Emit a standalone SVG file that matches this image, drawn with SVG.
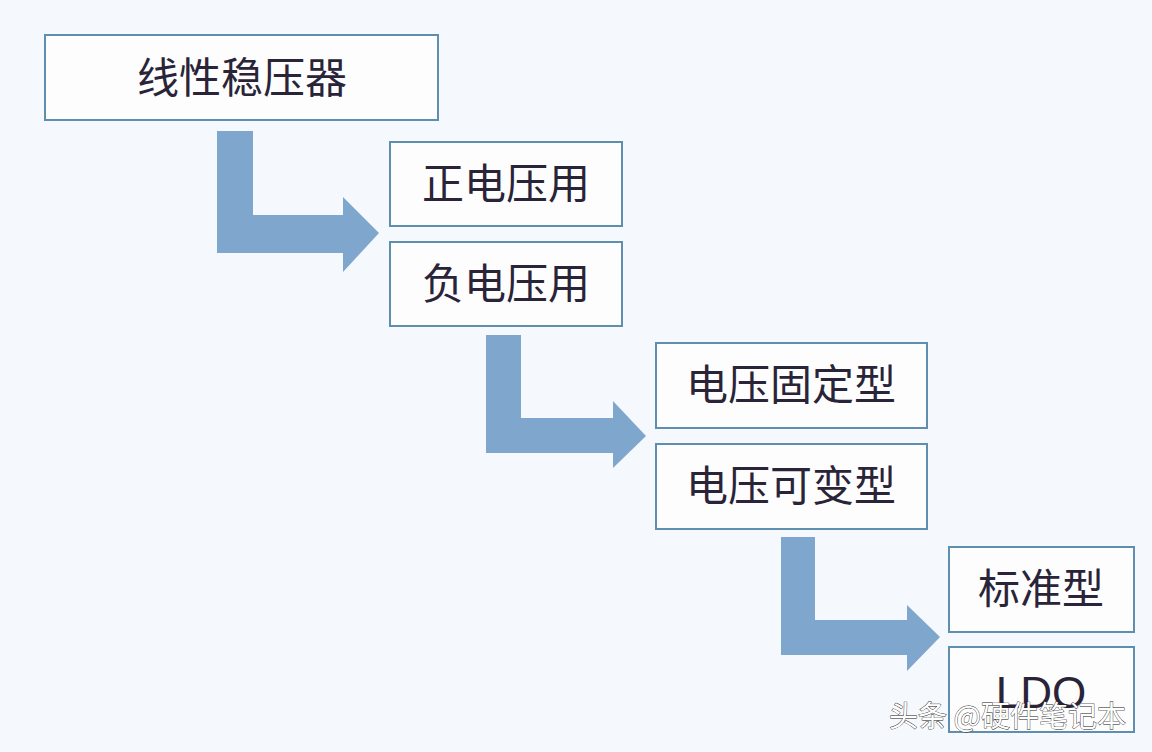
<svg xmlns="http://www.w3.org/2000/svg" width="1152" height="752" viewBox="0 0 1152 752">
<style>
.box{fill:#fdfdfe;stroke:#5e8fae;stroke-width:2}
.lbl{font-family:"Noto Sans CJK SC","Noto Sans",sans-serif;font-size:42px;fill:#2a2438;text-anchor:middle}
.arr{fill:#7fa7cd}
.wm{font-family:"Noto Sans CJK SC","Noto Sans",sans-serif;font-size:29px;fill:#ffffff;stroke:#222;stroke-width:0.8;paint-order:stroke}
</style>
<rect width="1152" height="752" fill="#f5f8fc"/>
<g id="connectors">
<path class="arr" d="M217,131 H253 V215 H343 V197 L379,233 L343,272 V253 H217 Z"/>
<path class="arr" d="M486,335 H521 V418 H613 V401 L646,436 L613,468 V453 H486 Z"/>
<path class="arr" d="M781,537 H815 V620 H907 V605 L940,637 L907,671 V655 H781 Z"/>
</g>
<g id="n1"><rect class="box" x="45" y="35" width="393" height="85"/><text class="lbl" x="242" y="93">线性稳压器</text></g>
<g id="n2"><rect class="box" x="390" y="142" width="232" height="84"/><text class="lbl" x="506" y="199">正电压用</text></g>
<g id="n3"><rect class="box" x="390" y="242" width="232" height="84"/><text class="lbl" x="506" y="299">负电压用</text></g>
<g id="n4"><rect class="box" x="656" y="343" width="271" height="85"/><text class="lbl" x="791" y="400">电压固定型</text></g>
<g id="n5"><rect class="box" x="656" y="444" width="271" height="85"/><text class="lbl" x="791" y="501">电压可变型</text></g>
<g id="n6"><rect class="box" x="949" y="547" width="185" height="85"/><text class="lbl" x="1041" y="604">标准型</text></g>
<g id="n7"><rect class="box" x="949" y="647" width="185" height="85"/><text class="lbl" x="1041" y="708" style="font-family:'Liberation Sans',sans-serif;font-size:44px">LDO</text></g>
<text class="wm" x="889" y="727">头条 @硬件笔记本</text>
</svg>
